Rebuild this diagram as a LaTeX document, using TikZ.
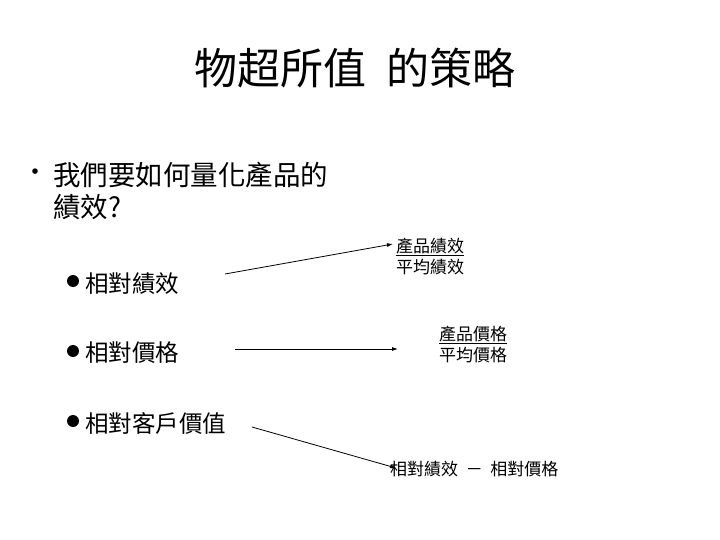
\documentclass[tikz,border=0pt]{standalone}
\usepackage{fontspec}
\setmainfont{Noto Sans CJK TC}
\usetikzlibrary{arrows.meta}
\begin{document}
\begin{tikzpicture}[x=1pt,y=-1pt,
  big/.style={font=\fontsize{43}{50}\selectfont},
  mid/.style={font=\fontsize{27.5}{32}\selectfont,anchor=west,inner sep=0pt},
  item/.style={font=\fontsize{23.5}{28}\selectfont,anchor=west,inner sep=0pt},
  sm/.style={font=\fontsize{17}{21}\selectfont,align=left,anchor=west,inner sep=0pt},
  arr/.style={-{Latex[length=6pt,width=4pt]},line width=0.8pt},
  dot/.style={circle,fill=black,inner sep=0pt,minimum size=12pt}]
\useasboundingbox (0,0) rectangle (720,540);
\node[big] (t) at (355,68) {物超所值\ \ 的策略};
\node[font=\fontsize{26}{30}\selectfont] (b0) at (36,175) {•};
\node[mid] (q1) at (53,175) {我們要如何量化產品的};
\node[mid] (q2) at (53,207) {績效?};
\node[dot] (d1) at (73,281) {};
\node[item] (l1) at (85,284) {相對績效};
\node[dot] (d2) at (73,351) {};
\node[item] (l2) at (85,353) {相對價格};
\node[dot] (d3) at (73,421) {};
\node[item] (l3) at (85,423) {相對客戶價值};
\node[sm] (f1) at (396,256) {\underline{產品績效}\\平均績效};
\node[sm] (f2) at (439,344) {\underline{產品價格}\\平均價格};
\node[sm] (f3) at (390,469) {相對績效 \ － \ 相對價格};
\coordinate (a1) at (225,274); \coordinate (b1) at (393,244);
\coordinate (a2) at (235,349); \coordinate (b2) at (398,349);
\coordinate (a3) at (252,427); \coordinate (b3) at (396,468);
\draw[arr] (a1) -- (b1);
\draw[arr] (a2) -- (b2);
\draw[arr] (a3) -- (b3);
\end{tikzpicture}
\end{document}
